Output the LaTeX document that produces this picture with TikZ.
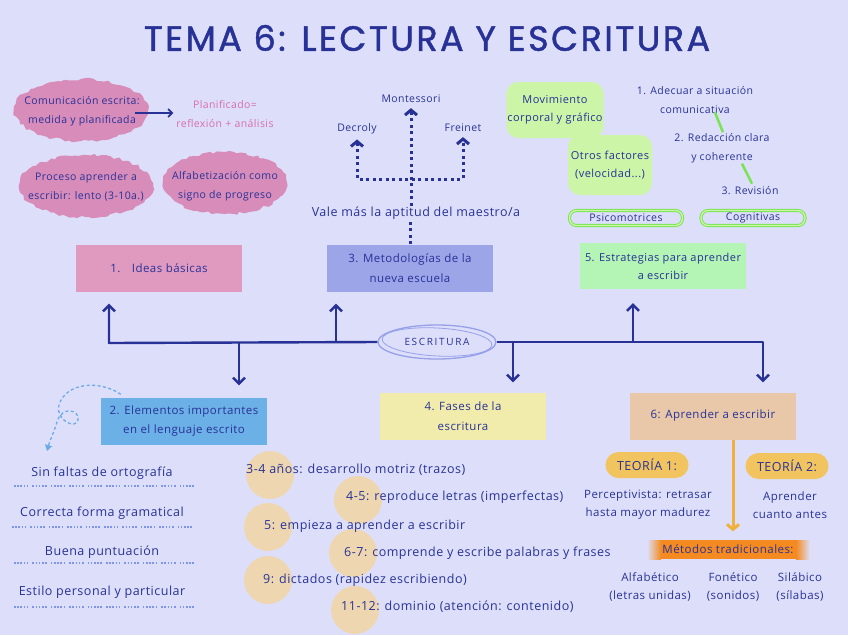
\documentclass[tikz,border=0pt]{standalone}
\usepackage{fontspec}
\setmainfont{Open Sans}[LetterSpace=4]
\newfontfamily\titlefont{Poppins}[LetterSpace=7,FakeBold=1.3]
\usetikzlibrary{arrows.meta,shapes.geometric,decorations.pathmorphing,calc}
\definecolor{bg}{RGB}{221,223,250}
\definecolor{ink}{RGB}{40,50,150}
\definecolor{pinkfill}{RGB}{216,140,186}
\definecolor{pinktext}{RGB}{214,110,170}
\definecolor{boxone}{RGB}{224,154,192}
\definecolor{boxthree}{RGB}{156,165,232}
\definecolor{boxfive}{RGB}{180,244,180}
\definecolor{gblobc}{RGB}{204,245,168}
\definecolor{boxtwo}{RGB}{108,176,232}
\definecolor{boxfour}{RGB}{242,236,172}
\definecolor{boxsix}{RGB}{232,200,168}
\definecolor{agefill}{RGB}{246,212,146}
\definecolor{teoria}{RGB}{242,196,96}
\definecolor{metodos}{RGB}{245,138,32}
\definecolor{oarrowc}{RGB}{240,176,60}
\definecolor{pillgreen}{RGB}{120,228,80}
\definecolor{dashblue}{RGB}{108,170,232}
\definecolor{ellcol}{RGB}{150,160,232}
\definecolor{squigc}{RGB}{125,150,235}
\begin{document}
\pgfmathsetseed{7}
\begin{tikzpicture}[x=1pt,y=-1pt,
  every node/.style={text=ink, font=\fontsize{10.5}{18.5}\selectfont, align=center, inner sep=1pt},
  rough/.style={decorate, decoration={random steps, segment length=4pt, amplitude=1.5pt}},
  tape/.style={rectangle, minimum width=166, minimum height=47, inner sep=2pt, font=\fontsize{11.5}{19.5}\selectfont},
  gblob/.style={rectangle, rounded corners=12pt, fill=gblobc, font=\fontsize{11}{18}\selectfont},
  mid/.style={font=\fontsize{11.5}{18}\selectfont},
  big/.style={font=\fontsize{12.5}{18}\selectfont},
  pillg/.style={rectangle, rounded corners=7pt, minimum width=113, minimum height=15,
     draw=pillgreen, line width=0.9pt, double=gblobc, double distance=1.3pt},
  pillo/.style={rectangle, rounded corners=13pt, minimum width=83, minimum height=26, fill=teoria,
     font=\fontsize{12.5}{14}\selectfont},
  spine/.style={draw=ink, line width=2.4pt, line join=round},
  tipb/.style={-{Straight Barb[length=6pt,width=12pt,line width=2.4pt]}},
  dotline/.style={draw=ink, line width=3pt, dash pattern=on 3pt off 3.5pt},
  gstroke/.style={draw=pillgreen, line width=2.5pt},
  squig/.style={draw=squigc, line width=2pt, dash pattern=on 1.6pt off 1.6pt on 1.6pt off 1.6pt on 1.6pt off 1.6pt on 1.6pt off 1.6pt on 1.6pt off 4pt},
  agedot/.style={fill=agefill, opacity=0.7}
]
\fill[bg] (0,0) rectangle (848,635);
\useasboundingbox (0,0) rectangle (848,635);

% title
\node[font=\titlefont\fontsize{35}{40}\selectfont] (title) at (427,38) {TEMA 6: LECTURA Y ESCRITURA};

% pink blobs
\fill[pinkfill, rough] (81,110) ellipse [x radius=67, y radius=31];
\fill[pinkfill, rough] (86,186) ellipse [x radius=67, y radius=31];
\fill[pinkfill, rough] (225,183) ellipse [x radius=62, y radius=31];
\node (com) at (82,111) {Comunicación escrita:\\medida y planificada};
\node[text=pinktext] (plan) at (225,114) {Planificado=\\reflexión + análisis};
\draw[draw=ink, line width=1.6pt, -{Straight Barb[length=4pt,width=8pt,line width=1.6pt]}] ($(com.east)+(-6,2)$) -- ($(plan.west)+(-2,-1)$);
\node (proc) at (86,187) {Proceso aprender a\\escribir: lento (3-10a.)};
\node (alf) at (225,186) {Alfabetización como\\signo de progreso};

% methodologies
\node (mont) at (411,99) {Montessori};
\node (decr) at (357,129) {Decroly};
\node (frei) at (463,128) {Freinet};
\node[big] (vale) at (416,213) {Vale más la aptitud del maestro/a};
\coordinate (hub) at (411,179);
\draw[dotline, -{Straight Barb[length=5pt,width=12pt,line width=3pt]}] (vale.north -| hub) -- ($(mont.south)+(0,4)$);
\draw[dotline, {Straight Barb[length=5pt,width=12pt,line width=3pt]}-{Straight Barb[length=5pt,width=12pt,line width=3pt]}]
   ($(decr.south)+(0,4)$) -- (decr.south |- hub) -- (frei.south |- hub) -- ($(frei.south)+(0,4)$);

% green blobs
\node[gblob, minimum width=84, minimum height=56] (mov) at (555,110) {Movimiento\\corporal y gráfico};
\node[gblob, minimum width=84, minimum height=60] (otr) at (610,165) {Otros factores\\(velocidad...)};

% right list
\node (ad) at (695,100) {1. Adecuar a situación\\comunicativa};
\node (red) at (722,148) {2. Redacción clara\\y coherente};
\node (rev) at (750,191) {3. Revisión};
\draw[gstroke] ($(ad.south)+(20,-2)$) -- ($(red.north)+(1,0)$);
\draw[gstroke] ($(red.south)+(20,0)$) -- ($(rev.north)+(2,-2)$);

\node[pillg] (psi) at (626,218) {Psicomotrices};
\node[pillg, minimum width=104] (cog) at (753,218) {Cognitivas};

% boxes
\node[tape, fill=boxone] (b1) at (159,268) {1.\quad Ideas básicas};
\node[tape, fill=boxthree] (b3) at (410,268) {3. Metodologías de la\\nueva escuela};
\node[tape, fill=boxfive, minimum height=46, font=\fontsize{11}{18}\selectfont] (b5) at (663,266) {5. Estrategias para aprender\\a escribir};
\node[tape, fill=boxtwo] (b2) at (184,421) {2. Elementos importantes\\en el lenguaje escrito};
\node[tape, fill=boxfour] (b4) at (463,416) {4. Fases de la\\escritura};
\node[tape, fill=boxsix] (b6) at (713,416) {6: Aprender a escribir};

\draw[dotline] (b3.north) -- (vale.south -| b3.north);

% spine
\node[ellipse, draw=ellcol, line width=1.3pt, minimum width=118, minimum height=34,
      font=\fontsize{10}{12}\selectfont] (esc) at (437,342) {E\,S\,C\,R\,I\,T\,U\,R\,A};
\draw[ellcol, line width=0.8pt, rotate around={-3:(esc.center)}] (esc.center) ellipse [x radius=55, y radius=14];
\coordinate (jL) at (109,343);
\coordinate (j2) at (239,343);
\coordinate (j3) at (336,343);
\coordinate (j4) at (513,342);
\coordinate (j5) at (633,342);
\coordinate (jR) at (763,342);
\draw[spine, tipb] (esc.west) -- (jL) -- ($(b1.south -| jL)+(0,12)$);
\draw[spine, tipb] (esc.east) -- (jR) -- ($(b6.north -| jR)+(0,-10)$);
\draw[spine, tipb] (j3) -- ($(b3.south -| j3)+(0,12)$);
\draw[spine, tipb] (j5) -- ($(b5.south -| j5)+(0,14)$);
\draw[spine, tipb] (j2) -- ($(b2.north -| j2)+(0,-12)$);
\draw[spine, tipb] (j4) -- ($(b4.north -| j4)+(0,-10)$);

% dashed curve
\coordinate (dtipc) at (47,451);
\draw[dashblue, line width=1.3pt, dash pattern=on 3pt off 2.5pt, -{Triangle[length=6pt,width=7pt]}]
  ($(b2.north west)+(20,-3)$) .. controls (100,380) and (66,382) .. (59,405)
  .. controls (55,420) and (76,430) .. (78,420)
  .. controls (80,410) and (62,405) .. (57,422)
  .. controls (54,432) and (50,440) .. (dtipc);

% list
\node[big] (l1) at (102,473) {Sin faltas de ortografía};
\node[big] (l2) at (102,513) {Correcta forma gramatical};
\node[big] (l3) at (102,552) {Buena puntuación};
\node[big] (l4) at (102,592) {Estilo personal y particular};
\draw[squig] (14,486) -- (195,486);
\draw[squig] (12,527) -- (195,527);
\draw[squig] (14,563) -- (195,563);
\draw[squig] (14,607) -- (195,607);

% phases
\fill[agedot] (270,475) circle (24);
\fill[agedot] (358,500) circle (24);
\fill[agedot] (268,527) circle (24);
\fill[agedot] (353,553) circle (24);
\fill[agedot] (268,580) circle (24);
\fill[agedot] (355,610) circle (24);
\node[big, anchor=west] (p1) at (245,470) {3-4 años: desarrollo motriz (trazos)};
\node[big, anchor=west] (p2) at (345,497) {4-5: reproduce letras (imperfectas)};
\node[big, anchor=west] (p3) at (263,526) {5: empieza a aprender a escribir};
\node[big, anchor=west] (p4) at (343,553) {6-7: comprende y escribe palabras y frases};
\node[big, anchor=west] (p5) at (262,580) {9: dictados (rapidez escribiendo)};
\node[big, anchor=west] (p6) at (340,607) {11-12: dominio (atención: contenido)};

% aprender a escribir
\node[pillo] (t1) at (647,465) {TEORÍA 1:};
\node[pillo] (t2) at (787,466) {TEORÍA 2:};
\node[mid] (perc) at (648,505) {Perceptivista: retrasar\\hasta mayor madurez};
\node[mid] (apr) at (790,505) {Aprender\\cuanto antes};
\fill[metodos] (661,540) rectangle (796,559);
\shade[left color=bg, right color=metodos] (647,540) rectangle (661,559);
\shade[left color=metodos, right color=bg] (796,540) rectangle (810,559);
\node[mid] (met) at (728,549) {Métodos tradicionales:};
\draw[oarrowc, line width=3pt, -{Straight Barb[length=5pt,width=12pt,line width=3pt]}] ($(b6.south)+(20,0)$) -- ($(met.north)+(5,-12)$);
\node[mid] (alfb) at (650,587) {Alfabético\\(letras unidas)};
\node[mid] (fon) at (733,587) {Fonético\\(sonidos)};
\node[mid] (sil) at (800,587) {Silábico\\(sílabas)};
\end{tikzpicture}
\end{document}
